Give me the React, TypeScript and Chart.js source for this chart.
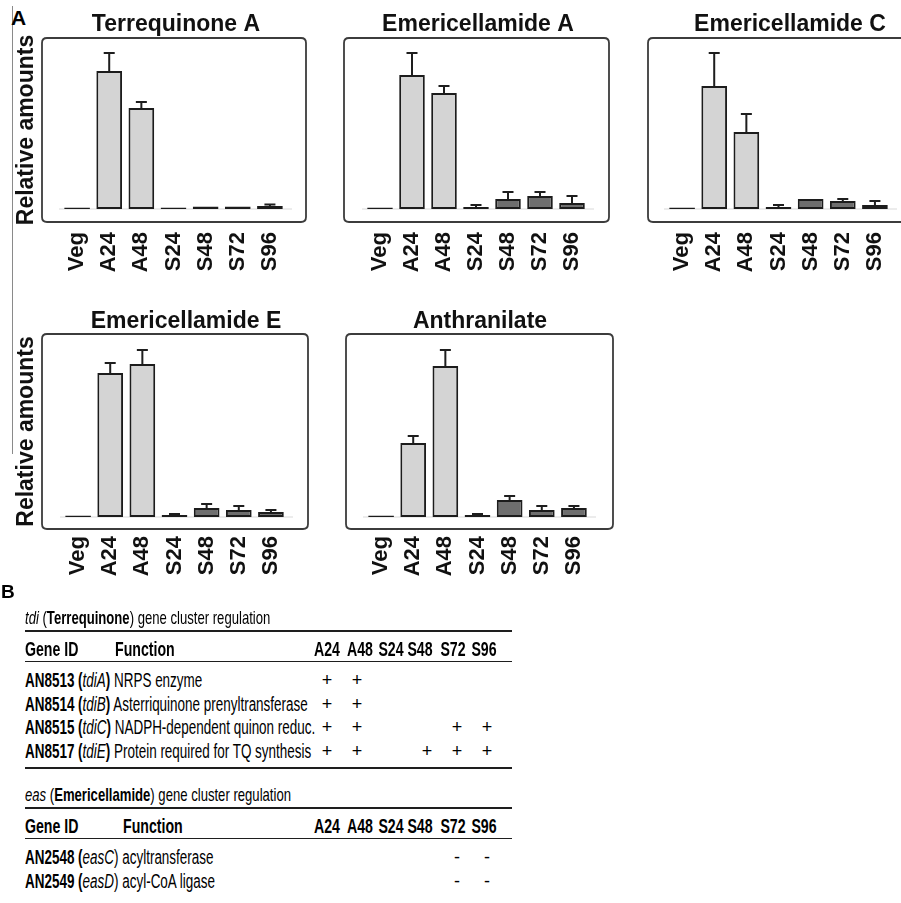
import React, { useEffect, useRef } from 'react';
import { Chart, registerables } from 'chart.js';

Chart.register(...registerables);

const FONT = '"Liberation Sans", Arial, Helvetica, sans-serif';

// ---------- Panel A data (relative amounts, arbitrary units) ----------
const categories = ['Veg', 'A24', 'A48', 'S24', 'S48', 'S72', 'S96'];

const terrequinoneA = [1.5, 138, 101, 1.5, 2.5, 2.5, 3];
const terrequinoneAErr = [0, 18, 6, 0, 0, 0, 1.5];

const emericellamideA = [1.5, 134, 116, 2, 10, 13, 6];
const emericellamideAErr = [0, 22, 7, 2, 7, 4, 7];

const emericellamideC = [1.5, 123, 77, 2, 10, 8, 4];
const emericellamideCErr = [0, 33, 18, 2, 0, 2, 4];

const emericellamideE = [1.5, 144, 153, 2, 9, 7, 5];
const emericellamideEErr = [0, 10, 14, 1, 4, 4, 2];

const anthranilate = [1.5, 74, 151, 2, 17, 7, 9];
const anthranilateErr = [0, 7, 16, 1, 4, 4, 2];

// ---------- Panel B table data ----------
const tableTimepoints = ['A24', 'A48', 'S24', 'S48', 'S72', 'S96'];

const tdiGeneIds = ['AN8513', 'AN8514', 'AN8515', 'AN8517'];
const tdiGeneNames = ['tdiA', 'tdiB', 'tdiC', 'tdiE'];
const tdiFunctions = [
  'NRPS enzyme',
  'Asterriquinone prenyltransferase',
  'NADPH-dependent quinon reduc.',
  'Protein required for TQ synthesis',
];
const tdiRegulation = [
  ['+', '+', '', '', '', ''],
  ['+', '+', '', '', '', ''],
  ['+', '+', '', '', '+', '+'],
  ['+', '+', '', '+', '+', '+'],
];

const easGeneIds = ['AN2548', 'AN2549'];
const easGeneNames = ['easC', 'easD'];
const easFunctions = ['acyltransferase', 'acyl-CoA ligase'];
const easRegulation = [
  ['', '', '', '', '-', '-'],
  ['', '', '', '', '-', '-'],
];

// ---------- layout ----------
type Rect = { x: number; y: number; w: number; h: number };
type Area = { l: number; r: number; t: number; b: number };
type PanelSpec = {
  title: string;
  values: number[];
  errors: number[];
  canvas: Rect;
  area: Area;
  boxL: number;
  boxR: number;
  titleX: number;
  titleY: number;
  yMin: number;
  yMax: number;
  yTitle: boolean;
  tickPad: number;
};

const panels: PanelSpec[] = [
  {
    title: 'Terrequinone A', values: terrequinoneA, errors: terrequinoneAErr,
    canvas: { x: 0, y: 0, w: 330, h: 290 }, area: { l: 61, r: 286, t: 38, b: 222 },
    boxL: 42, boxR: 306, titleX: 176, titleY: 25, yMin: -13, yMax: 171, yTitle: true, tickPad: 10,
  },
  {
    title: 'Emericellamide A', values: emericellamideA, errors: emericellamideAErr,
    canvas: { x: 330, y: 0, w: 300, h: 290 }, area: { l: 364, r: 588, t: 38, b: 222 },
    boxL: 344, boxR: 609, titleX: 478, titleY: 25, yMin: -13, yMax: 171, yTitle: false, tickPad: 10,
  },
  {
    title: 'Emericellamide C', values: emericellamideC, errors: emericellamideCErr,
    canvas: { x: 630, y: 0, w: 300, h: 290 }, area: { l: 666, r: 891, t: 38, b: 222 },
    boxL: 648, boxR: 912, titleX: 790, titleY: 25, yMin: -13, yMax: 171, yTitle: false, tickPad: 10,
  },
  {
    title: 'Emericellamide E', values: emericellamideE, errors: emericellamideEErr,
    canvas: { x: 0, y: 290, w: 330, h: 300 }, area: { l: 62, r: 287, t: 334, b: 529 },
    boxL: 42, boxR: 308, titleX: 186, titleY: 322, yMin: -12, yMax: 183, yTitle: true, tickPad: 7,
  },
  {
    title: 'Anthranilate', values: anthranilate, errors: anthranilateErr,
    canvas: { x: 330, y: 290, w: 300, h: 300 }, area: { l: 365, r: 590, t: 334, b: 529 },
    boxL: 346, boxR: 613, titleX: 480, titleY: 322, yMin: -12, yMax: 183, yTitle: false, tickPad: 7,
  },
];

const panelDecor = {
  id: 'panelDecor',
  beforeDatasetsDraw(chart: any, _args: any, opts: any) {
    const { ctx, chartArea: ca, scales } = chart;
    const y = scales.y;
    ctx.save();
    // rounded frame
    const l = ca.left - opts.padL;
    const r = ca.right + opts.padR;
    const t = ca.top;
    const b = ca.bottom;
    const rad = 5;
    ctx.beginPath();
    ctx.moveTo(l + rad, t);
    ctx.lineTo(r - rad, t);
    ctx.quadraticCurveTo(r, t, r, t + rad);
    ctx.lineTo(r, b - rad);
    ctx.quadraticCurveTo(r, b, r - rad, b);
    ctx.lineTo(l + rad, b);
    ctx.quadraticCurveTo(l, b, l, b - rad);
    ctx.lineTo(l, t + rad);
    ctx.quadraticCurveTo(l, t, l + rad, t);
    ctx.closePath();
    ctx.strokeStyle = '#3c3c3c';
    ctx.lineWidth = 1.8;
    ctx.stroke();
    // faint zero line
    const y0 = y.getPixelForValue(0);
    ctx.beginPath();
    ctx.moveTo(ca.left - 2, y0);
    ctx.lineTo(ca.right + 6, y0);
    ctx.strokeStyle = '#e6e6e6';
    ctx.lineWidth = 1.5;
    ctx.stroke();
    // panel title
    ctx.font = `bold 23px ${FONT}`;
    ctx.fillStyle = '#111';
    ctx.textAlign = 'center';
    ctx.textBaseline = 'middle';
    ctx.fillText(opts.title, opts.titleX, opts.titleY);
    ctx.restore();
  },
  afterDatasetsDraw(chart: any, _args: any, opts: any) {
    const { ctx, scales } = chart;
    const y = scales.y;
    const meta = chart.getDatasetMeta(0);
    const values = chart.data.datasets[0].data as number[];
    const errs: number[] = opts.errors || [];
    ctx.save();
    ctx.strokeStyle = '#1e1e1e';
    ctx.lineWidth = 2;
    meta.data.forEach((bar: any, i: number) => {
      const e = errs[i];
      if (!e) return;
      const yBar = y.getPixelForValue(values[i]);
      const yTop = y.getPixelForValue(values[i] + e);
      ctx.beginPath();
      ctx.moveTo(bar.x, yBar);
      ctx.lineTo(bar.x, yTop);
      ctx.moveTo(bar.x - 5.5, yTop);
      ctx.lineTo(bar.x + 5.5, yTop);
      ctx.stroke();
    });
    ctx.restore();
  },
};

function BarPanel({ p }: { p: PanelSpec }) {
  const ref = useRef<HTMLCanvasElement>(null);
  useEffect(() => {
    const cv = p.canvas;
    const ca = p.area;
    const chart = new Chart(ref.current as HTMLCanvasElement, {
      type: 'bar',
      data: {
        labels: categories,
        datasets: [
          {
            data: p.values,
            backgroundColor: categories.map((c) =>
              c === 'Veg' ? '#333333' : c[0] === 'A' ? '#d4d4d4' : '#6e6e6e'
            ),
            borderColor: '#1c1c1c',
            borderWidth: 2,
            borderSkipped: false,
            categoryPercentage: 1,
            barPercentage: 0.8,
          } as any,
        ],
      },
      options: {
        responsive: false,
        animation: false,
        devicePixelRatio: 1,
        events: [],
        layout: {
          padding: { left: 0, top: ca.t - cv.y, right: cv.x + cv.w - ca.r, bottom: 0 },
        },
        plugins: {
          legend: { display: false },
          tooltip: { enabled: false },
          title: { display: false },
          panelDecor: {
            title: p.title,
            titleX: p.titleX - cv.x,
            titleY: p.titleY - cv.y,
            padL: ca.l - p.boxL,
            padR: p.boxR - ca.r,
            errors: p.errors,
          },
        } as any,
        scales: {
          x: {
            grid: { display: false, drawTicks: false },
            border: { display: false },
            ticks: {
              minRotation: 90,
              maxRotation: 90,
              autoSkip: false,
              padding: p.tickPad,
              color: '#111',
              font: { size: 22, weight: 'bold', family: FONT },
            },
            afterFit: (s: any) => {
              s.height = cv.y + cv.h - ca.b;
              s.paddingLeft = 0;
              s.paddingRight = 0;
            },
          },
          y: {
            min: p.yMin,
            max: p.yMax,
            ticks: { display: false },
            grid: { display: false, drawTicks: false },
            border: { display: false },
            title: {
              display: p.yTitle,
              text: 'Relative amounts',
              color: '#111',
              font: { size: 23, weight: 'bold', family: FONT },
              padding: { top: 13, bottom: 0 },
            },
            afterFit: (s: any) => {
              s.width = ca.l - cv.x;
              s.paddingTop = 0;
              s.paddingBottom = 0;
            },
          },
        } as any,
      },
      plugins: [panelDecor],
    });
    return () => chart.destroy();
  }, []);
  return (
    <canvas
      ref={ref}
      width={p.canvas.w}
      height={p.canvas.h}
      style={{ position: 'absolute', left: p.canvas.x, top: p.canvas.y, width: p.canvas.w, height: p.canvas.h }}
    />
  );
}

// ---------- table helpers ----------
const SX = 0.69;

function Txt({ x, y, size, children, bold, center, scale = SX }: any) {
  const style: React.CSSProperties = {
    position: 'absolute',
    top: y - 0.56 * size,
    fontSize: size,
    lineHeight: `${size * 1.15}px`,
    fontFamily: FONT,
    fontWeight: bold ? 'bold' : 'normal',
    whiteSpace: 'nowrap',
    color: '#000',
    transform: `scaleX(${scale})`,
  };
  if (center) {
    style.left = x - 50;
    style.width = 100;
    style.textAlign = 'center';
    style.transformOrigin = '50% 50%';
  } else {
    style.left = x;
    style.transformOrigin = '0 50%';
  }
  return <div style={style}>{children}</div>;
}

function Rule({ y, h }: { y: number; h: number }) {
  return <div style={{ position: 'absolute', left: 25, width: 487, top: y - h / 2, height: h, background: '#1e1e1e' }} />;
}

const headerX = [327, 360, 391, 420, 453, 484];
const markX = [327, 357, 390, 427, 457, 487];

function GeneTable({ top, titleNode, funcX, ids, names, funcs, regs, bottomRule, parenBoldClose }: any) {
  const rowYs = ids.map((_: string, i: number) => top + 62 + i * 23.7);
  return (
    <>
      <Txt x={25} y={top} size={19}>{titleNode}</Txt>
      <Rule y={top + 13} h={2.5} />
      <Txt x={25} y={top + 30} size={20.5} bold>Gene ID</Txt>
      <Txt x={funcX} y={top + 30} size={20.5} bold>Function</Txt>
      {tableTimepoints.map((t, i) => (
        <Txt key={t} x={headerX[i]} y={top + 30} size={20.5} bold center>{t}</Txt>
      ))}
      <Rule y={top + 43.5} h={1.8} />
      {ids.map((id: string, r: number) => (
        <React.Fragment key={id}>
          <Txt x={25} y={rowYs[r]} size={19.5}>
            <b>{id} (</b>
            <i>{names[r]}</i>
            {parenBoldClose ? <b>)</b> : ')'} {funcs[r]}
          </Txt>
          {regs[r].map((m: string, c: number) =>
            m ? (
              <Txt key={c} x={markX[c]} y={rowYs[r]} size={18} center scale={1}>{m}</Txt>
            ) : null
          )}
        </React.Fragment>
      ))}
      {bottomRule ? <Rule y={rowYs[ids.length - 1] + 17} h={2.5} /> : null}
    </>
  );
}

export default function App() {
  return (
    <div
      style={{
        position: 'fixed', left: 0, top: 0, width: 901, height: 903,
        overflow: 'hidden', background: '#fff', fontFamily: FONT,
      }}
    >
      {/* thin vertical rule left of panel A */}
      <div style={{ position: 'absolute', left: 11.5, top: 6, width: 1.5, height: 448, background: '#8a8a8a' }} />
      <Txt x={11} y={17.5} size={21} bold scale={1}>A</Txt>
      {panels.map((p) => (
        <BarPanel key={p.title} p={p} />
      ))}
      <Txt x={1} y={591.5} size={19} bold scale={1}>B</Txt>
      <GeneTable
        top={618}
        titleNode={<><i>tdi</i> (<b>Terrequinone</b>) gene cluster regulation</>}
        funcX={115}
        ids={tdiGeneIds}
        names={tdiGeneNames}
        funcs={tdiFunctions}
        regs={tdiRegulation}
        bottomRule
        parenBoldClose
      />
      <GeneTable
        top={795}
        titleNode={<><i>eas</i> (<b>Emericellamide</b>) gene cluster regulation</>}
        funcX={123}
        ids={easGeneIds}
        names={easGeneNames}
        funcs={easFunctions}
        regs={easRegulation}
        bottomRule={false}
        parenBoldClose={false}
      />
    </div>
  );
}
